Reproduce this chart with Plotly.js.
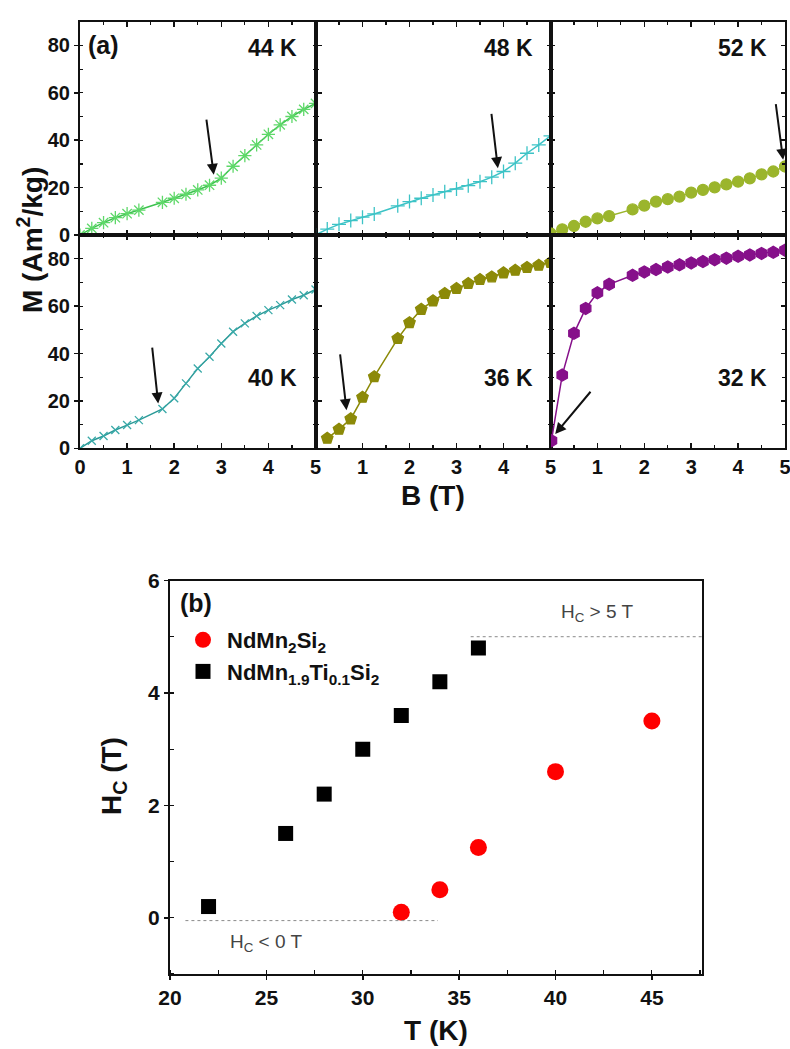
<!DOCTYPE html>
<html>
<head>
<meta charset="utf-8">
<script src="https://cdn.plot.ly/plotly-3.0.1.min.js"></script>
<style>
  html, body { margin: 0; padding: 0; background: #ffffff; }
  #chart { width: 790px; height: 1049px; }
</style>
</head>
<body>
<div id="chart"></div>
<script>
// ---- (a) magnetisation isotherms M(B) ----
const B_44 = [0, 0.25, 0.5, 0.75, 1, 1.25, 1.75, 2, 2.25, 2.5, 2.75, 3, 3.25, 3.5, 3.75, 4, 4.25, 4.5, 4.75, 5];
const M_44 = [0, 2.8, 5.2, 7.3, 9.0, 10.5, 13.8, 15.5, 17.2, 19.0, 21.0, 24.0, 29.0, 33.5, 38.0, 42.5, 46.5, 50.0, 53.0, 55.5];

const B_48 = [0, 0.25, 0.5, 0.75, 1, 1.25, 1.75, 2, 2.25, 2.5, 2.75, 3, 3.25, 3.5, 3.75, 4, 4.25, 4.5, 4.75, 5];
const M_48 = [0, 2.5, 4.5, 6.1, 7.5, 8.9, 12.3, 14.1, 15.5, 16.9, 18.3, 19.4, 20.8, 22.5, 24.4, 26.8, 30.3, 34.5, 38.0, 41.8];

const B_52 = [0, 0.25, 0.5, 0.75, 1, 1.25, 1.75, 2, 2.25, 2.5, 2.75, 3, 3.25, 3.5, 3.75, 4, 4.25, 4.5, 4.75, 5];
const M_52 = [0.7, 2.4, 3.8, 5.6, 7.0, 8.0, 10.8, 12.4, 14.1, 15.1, 16.2, 17.9, 19.0, 20.1, 21.4, 22.5, 23.9, 25.6, 26.8, 28.9];

const B_40 = [0, 0.25, 0.5, 0.75, 1, 1.25, 1.75, 2, 2.25, 2.5, 2.75, 3, 3.25, 3.5, 3.75, 4, 4.25, 4.5, 4.75, 5];
const M_40 = [0, 3.2, 5.2, 7.7, 9.8, 11.9, 16.6, 21.1, 27.4, 33.7, 38.6, 44.2, 49.2, 52.7, 55.8, 58.3, 60.4, 62.8, 64.6, 67.0];

const B_36 = [0.25, 0.5, 0.75, 1, 1.25, 1.75, 2, 2.25, 2.5, 2.75, 3, 3.25, 3.5, 3.75, 4, 4.25, 4.5, 4.75, 5];
const M_36 = [4.2, 8.0, 12.4, 21.5, 30.2, 46.3, 53.0, 58.6, 62.2, 65.3, 67.4, 69.5, 71.2, 72.3, 74.0, 75.1, 76.3, 77.2, 78.4];

const B_32 = [0.02, 0.25, 0.5, 0.75, 1, 1.25, 1.75, 2, 2.25, 2.5, 2.75, 3, 3.25, 3.5, 3.75, 4, 4.25, 4.5, 4.75, 5];
const M_32 = [3.2, 30.9, 48.5, 59.0, 65.6, 69.2, 73.0, 74.4, 75.4, 76.5, 77.4, 78.2, 78.8, 79.6, 80.2, 81.0, 81.6, 82.2, 82.7, 83.6];

// temperature of each panel, panel order: top row 44,48,52 ; bottom row 40,36,32
const panelTemps = ['44 K', '48 K', '52 K', '40 K', '36 K', '32 K'];

// critical-field arrows: [head B, head M, tail B, tail M]
const arrow_44 = [2.84, 25.4, 2.68, 49.3];
const arrow_48 = [3.88, 28.2, 3.74, 51.7];
const arrow_52 = [4.96, 31.7, 4.80, 55.9];
const arrow_40 = [1.66, 18.9, 1.53, 43.1];
const arrow_36 = [0.66, 16.1, 0.52, 40.3];
const arrow_32 = [0.10, 6.0, 0.88, 24.5];

const bTicksFirst = [0, 1, 2, 3, 4, 5];
const bTicksRest = [1, 2, 3, 4, 5];
const mTicks = [0, 20, 40, 60, 80];

// ---- (b) critical field vs temperature ----
const T_pure = [32, 34, 36, 40, 45];
const Hc_pure = [0.1, 0.5, 1.25, 2.6, 3.5];
const T_ti = [22, 26, 28, 30, 32, 34, 36];
const Hc_ti = [0.2, 1.5, 2.2, 3.0, 3.6, 4.2, 4.8];
const name_pure = 'NdMn<sub>2</sub>Si<sub>2</sub>';
const name_ti = 'NdMn<sub>1.9</sub>Ti<sub>0.1</sub>Si<sub>2</sub>';
const Hc_upper = 5;     // limit line "Hc > 5 T"
const Hc_lower = -0.05; // limit line "Hc < 0 T"

const FONT = 'Liberation Sans, Arial, sans-serif';
const W = 790, H = 1049;
const px = v => v / W;          // horizontal pixel -> paper
const py = v => 1 - v / H;      // vertical pixel -> paper

// panel frame in pixels
const colEdges = [80, 315.5, 550.5, 785];
const rowEdges = [21.7, 235, 448.3];

const traces = [];
const series = [
  {B: B_44, M: M_44, color: '#3cc24e', mcolor: '#5fd86a', symbol: 'asterisk-open', size: 11},
  {B: B_48, M: M_48, color: '#3cc3c6', mcolor: '#3cc3c6', symbol: 'cross-thin-open', size: 10},
  {B: B_52, M: M_52, color: '#9bb52c', mcolor: '#9bb52c', symbol: 'circle', size: 11},
  {B: B_40, M: M_40, color: '#2b9a98', mcolor: '#39a9a8', symbol: 'x-thin-open', size: 8},
  {B: B_36, M: M_36, color: '#8c8a08', mcolor: '#8c8a08', symbol: 'pentagon', size: 12},
  {B: B_32, M: M_32, color: '#86108a', mcolor: '#86108a', symbol: 'hexagon', size: 12}
];
series.forEach((s, i) => {
  const k = i + 1;
  traces.push({
    type: 'scatter', mode: 'lines+markers', x: s.B, y: s.M,
    xaxis: 'x' + (k === 1 ? '' : k), yaxis: 'y' + (k === 1 ? '' : k),
    line: {color: s.color, width: 1.5},
    marker: {symbol: s.symbol, size: s.size, color: s.mcolor, line: {color: s.mcolor, width: 1.3}},
    showlegend: false, hoverinfo: 'skip'
  });
});

traces.push({
  type: 'scatter', mode: 'markers', x: T_pure, y: Hc_pure, name: name_pure,
  xaxis: 'x7', yaxis: 'y7',
  marker: {symbol: 'circle', size: 17, color: '#ff0000'}
});
traces.push({
  type: 'scatter', mode: 'markers', x: T_ti, y: Hc_ti, name: name_ti,
  xaxis: 'x7', yaxis: 'y7',
  marker: {symbol: 'square', size: 15, color: '#000000'}
});

const tickFont = {family: FONT, size: 20, color: '#111', weight: 'bold'};
const layout = {
  width: W, height: H,
  margin: {l: 0, r: 0, t: 0, b: 0},
  paper_bgcolor: '#ffffff', plot_bgcolor: '#ffffff',
  font: {family: FONT},
  showlegend: true,
  legend: {
    x: px(179), y: py(619), xanchor: 'left', yanchor: 'top',
    bgcolor: 'rgba(0,0,0,0)', itemwidth: 38,
    font: {family: FONT, size: 22, color: '#111', weight: 'bold'},
    tracegroupgap: 0
  },
  annotations: [], shapes: []
};

for (let r = 0; r < 2; r++) {
  for (let c = 0; c < 3; c++) {
    const k = r * 3 + c + 1;
    const sfx = k === 1 ? '' : String(k);
    layout['xaxis' + sfx] = {
      domain: [px(colEdges[c]), px(colEdges[c + 1])],
      anchor: 'y' + sfx, range: [0, 5],
      tickmode: 'array', tickvals: c === 0 ? bTicksFirst : bTicksRest,
      showticklabels: r === 1, tickfont: tickFont, ticklabeloverflow: 'allow',
      ticks: 'inside', ticklen: 5, tickwidth: 1.5, tickcolor: '#111',
      minor: {tickmode: 'linear', tick0: 0, dtick: 0.5, ticks: 'inside', ticklen: 3, tickwidth: 1.2, tickcolor: '#111'},
      showline: true, linecolor: '#111', linewidth: 2, mirror: 'ticks',
      showgrid: false, zeroline: false, fixedrange: true
    };
    layout['yaxis' + sfx] = {
      domain: [py(rowEdges[r + 1]), py(rowEdges[r])],
      anchor: 'x' + sfx, range: [0, 90],
      tickmode: 'array', tickvals: mTicks,
      showticklabels: c === 0, tickfont: tickFont, ticklabeloverflow: 'allow',
      ticks: c === 0 ? 'outside' : 'inside', ticklen: 4, tickwidth: 1.5, tickcolor: '#111',
      minor: {tickmode: 'linear', tick0: 0, dtick: 10, ticks: 'inside', ticklen: 3, tickwidth: 1.2, tickcolor: '#111'},
      showline: true, linecolor: '#111', linewidth: 2, mirror: 'ticks',
      showgrid: false, zeroline: false, fixedrange: true
    };
    // temperature label in each panel
    const yLab = r === 0 ? 79 : 29.6;
    layout.annotations.push({
      xref: 'x' + sfx, yref: 'y' + sfx, x: 4.66, y: yLab, xanchor: 'right', yanchor: 'middle',
      text: panelTemps[k - 1], showarrow: false,
      font: {family: FONT, size: 23, color: '#111', weight: 'bold'}
    });
  }
}

// arrows marking the metamagnetic transition
[arrow_44, arrow_48, arrow_52, arrow_40, arrow_36, arrow_32].forEach((a, i) => {
  const sfx = i === 0 ? '' : String(i + 1);
  layout.annotations.push({
    xref: 'x' + sfx, yref: 'y' + sfx, axref: 'x' + sfx, ayref: 'y' + sfx,
    x: a[0], y: a[1], ax: a[2], ay: a[3], text: '',
    showarrow: true, arrowhead: 2, arrowsize: 1.1, arrowwidth: 2, arrowcolor: '#111', standoff: 0
  });
});

layout.annotations.push(
  {xref: 'x', yref: 'y', x: 0.12, y: 80, xanchor: 'left', yanchor: 'middle', text: '(a)', showarrow: false,
   font: {family: FONT, size: 25, color: '#111', weight: 'bold'}},
  {xref: 'paper', yref: 'paper', x: px(30), y: py(240), xanchor: 'center', yanchor: 'middle',
   text: 'M (Am<sup>2</sup>/kg)', textangle: -90,
   showarrow: false, font: {family: FONT, size: 28, color: '#111', weight: 'bold'}},
  {xref: 'paper', yref: 'paper', x: px(433), y: py(495), xanchor: 'center', yanchor: 'middle', text: 'B (T)',
   showarrow: false, font: {family: FONT, size: 28, color: '#111', weight: 'bold'}},
  {xref: 'paper', yref: 'paper', x: px(113), y: py(776), xanchor: 'center', yanchor: 'middle',
   text: 'H<sub>C</sub> (T)', textangle: -90,
   showarrow: false, font: {family: FONT, size: 28, color: '#111', weight: 'bold'}}
);

// ---- panel (b) axes ----
layout.xaxis7 = {
  domain: [px(170), px(702)], anchor: 'y7', range: [20, 47.6],
  tickmode: 'linear', tick0: 20, dtick: 5, tickfont: {family: FONT, size: 21, color: '#111', weight: 'bold'},
  ticks: 'outside', ticklen: 4, tickwidth: 1.5, tickcolor: '#111',
  minor: {tickmode: 'linear', tick0: 20, dtick: 2.5, ticks: 'inside', ticklen: 4, tickwidth: 1.2, tickcolor: '#111'},
  showline: true, linecolor: '#111', linewidth: 2, mirror: true,
  showgrid: false, zeroline: false, fixedrange: true,
  title: {text: 'T (K)', standoff: 12, font: {family: FONT, size: 28, color: '#111', weight: 'bold'}}
};
layout.yaxis7 = {
  domain: [py(974), py(580.5)], anchor: 'x7', range: [-1, 6],
  tickmode: 'array', tickvals: [0, 2, 4, 6], tickfont: {family: FONT, size: 21, color: '#111', weight: 'bold'},
  ticks: 'outside', ticklen: 4, tickwidth: 1.5, tickcolor: '#111',
  minor: {tickmode: 'linear', tick0: 0, dtick: 1, ticks: 'inside', ticklen: 4, tickwidth: 1.2, tickcolor: '#111'},
  showline: true, linecolor: '#111', linewidth: 2, mirror: true,
  showgrid: false, zeroline: false, fixedrange: true
};

layout.shapes.push(
  {type: 'line', xref: 'x7', yref: 'y7', x0: 35.6, x1: 47.6, y0: Hc_upper, y1: Hc_upper,
   line: {color: '#8a8a8a', width: 1, dash: 'dot'}},
  {type: 'line', xref: 'x7', yref: 'y7', x0: 20.8, x1: 33.9, y0: Hc_lower, y1: Hc_lower,
   line: {color: '#8a8a8a', width: 1, dash: 'dot'}}
);
layout.annotations.push(
  {xref: 'x7', yref: 'y7', x: 42.2, y: 5.42, text: 'H<sub>C</sub> > 5 T', showarrow: false,
   font: {family: FONT, size: 19, color: '#444'}},
  {xref: 'x7', yref: 'y7', x: 25.0, y: -0.45, text: 'H<sub>C</sub> < 0 T', showarrow: false,
   font: {family: FONT, size: 19, color: '#444'}},
  {xref: 'paper', yref: 'paper', x: px(178), y: py(603), xanchor: 'left', yanchor: 'middle', text: '(b)', showarrow: false,
   font: {family: FONT, size: 25, color: '#111', weight: 'bold'}}
);

Plotly.newPlot('chart', traces, layout, {displayModeBar: false, staticPlot: true});
</script>
</body>
</html>
